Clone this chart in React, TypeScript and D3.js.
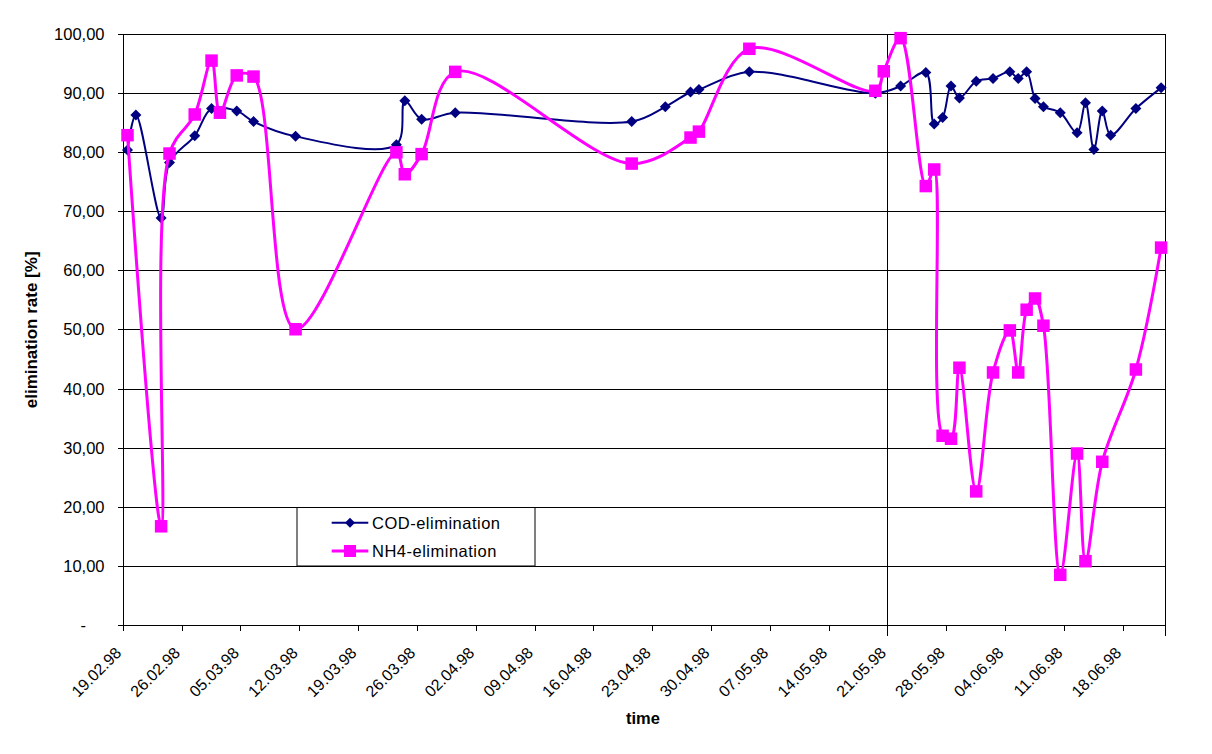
import React from "react";
import * as d3 from "d3";

// ---- data ----
const codDates = [
  "19.02.98", "20.02.98", "23.02.98", "24.02.98", "27.02.98", "01.03.98", "04.03.98", "06.03.98",
  "11.03.98", "23.03.98", "24.03.98", "26.03.98", "30.03.98", "20.04.98", "24.04.98", "27.04.98",
  "28.04.98", "04.05.98", "19.05.98", "22.05.98", "25.05.98", "26.05.98", "27.05.98", "28.05.98",
  "29.05.98", "31.05.98", "02.06.98", "04.06.98", "05.06.98", "06.06.98", "07.06.98", "08.06.98",
  "10.06.98", "12.06.98", "13.06.98", "14.06.98", "15.06.98", "16.06.98", "19.06.98", "22.06.98",
];
const codValues = [
  80.4, 86.3, 68.9, 78.3, 82.8, 87.4, 87.0, 85.2,
  82.7, 81.3, 88.7, 85.6, 86.7, 85.2, 87.7, 90.2,
  90.6, 93.6, 90.0, 91.2, 93.5, 84.8, 85.9, 91.2,
  89.2, 92.0, 92.5, 93.6, 92.5, 93.6, 89.1, 87.7,
  86.7, 83.3, 88.4, 80.5, 87.0, 82.9, 87.4, 90.9,
];
const nh4Dates = [
  "19.02.98", "23.02.98", "24.02.98", "27.02.98", "01.03.98", "02.03.98", "04.03.98", "06.03.98",
  "11.03.98", "23.03.98", "24.03.98", "26.03.98", "30.03.98", "20.04.98", "27.04.98", "28.04.98",
  "04.05.98", "19.05.98", "20.05.98", "22.05.98", "25.05.98", "26.05.98", "27.05.98", "28.05.98",
  "29.05.98", "31.05.98", "02.06.98", "04.06.98", "05.06.98", "06.06.98", "07.06.98", "08.06.98",
  "10.06.98", "12.06.98", "13.06.98", "15.06.98", "19.06.98", "22.06.98",
];
const nh4Values = [
  82.9, 16.8, 79.8, 86.4, 95.5, 86.7, 93.0, 92.8,
  50.1, 80.0, 76.3, 79.7, 93.6, 78.1, 82.5, 83.5,
  97.5, 90.4, 93.7, 99.3, 74.3, 77.1, 32.1, 31.6,
  43.6, 22.7, 42.8, 49.9, 42.8, 53.4, 55.3, 50.7,
  8.6, 29.1, 10.9, 27.7, 43.3, 63.9,
];
const yTicks = [0, 10, 20, 30, 40, 50, 60, 70, 80, 90, 100];
const xTickLabels = [
  "19.02.98", "26.02.98", "05.03.98", "12.03.98", "19.03.98", "26.03.98", "02.04.98", "09.04.98",
  "16.04.98", "23.04.98", "30.04.98", "07.05.98", "14.05.98", "21.05.98", "28.05.98", "04.06.98",
  "11.06.98", "18.06.98",
];
const axisStartDate = "19.02.98";
const axisEndDate = "23.06.98";
const dividerDate = "21.05.98";
const seriesNames = ["COD-elimination", "NH4-elimination"];

const parse = d3.timeParse("%d.%m.%y");
const HALF_DAY = 12 * 3600 * 1000;
const FONT = "'Liberation Sans', Arial, Helvetica, sans-serif";

export default function App() {
  const left = 123.3, right = 1165.3, top = 34, bottom = 625.7;
  const x = d3.scaleTime().domain([parse(axisStartDate)!, parse(axisEndDate)!]).range([left, right]);
  const y = d3.scaleLinear().domain([0, 100]).range([bottom, top]);
  const xc = (s: string) => x(new Date(parse(s)!.getTime() + HALF_DAY));

  const line = d3
    .line<[string, number]>()
    .x((d) => xc(d[0]))
    .y((d) => y(d[1]))
    .curve(d3.curveCatmullRom.alpha(0.5));

  const cod: [string, number][] = codDates.map((d, i) => [d, codValues[i]]);
  const nh4: [string, number][] = nh4Dates.map((d, i) => [d, nh4Values[i]]);

  const diamond = (cx: number, cy: number, r = 5.5) =>
    `M${cx},${cy - r}L${cx + r},${cy}L${cx},${cy + r}L${cx - r},${cy}Z`;
  const sq = 12.5;

  const fmt = (v: number) => (v === 0 ? "-" : d3.format(".2f")(v).replace(".", ","));
  const divX = x(parse(dividerDate)!);

  const legX = 297, legY = 507.5, legW = 238, legH = 58.5;
  const row1 = 522.7, row2 = 551;

  return (
    <svg
      width={1212}
      height={754}
      style={{ position: "absolute", left: 0, top: 0, background: "#fff" }}
      fontFamily={FONT}
    >
      <rect x={0} y={0} width={1212} height={754} fill="#fff" />
      {/* gridlines */}
      {yTicks.filter((t) => t > 0).map((t) => (
        <line key={t} x1={left} x2={right} y1={y(t)} y2={y(t)} stroke="#000" strokeWidth={1} shapeRendering="crispEdges" />
      ))}
      {/* y axis */}
      <line x1={left} x2={left} y1={top} y2={bottom} stroke="#000" shapeRendering="crispEdges" />
      {yTicks.map((t) => (
        <g key={t}>
          <line x1={left - 5} x2={left} y1={y(t)} y2={y(t)} stroke="#000" shapeRendering="crispEdges" />
          <text
            x={t === 0 ? 86 : 104.5}
            y={y(t)}
            dy="0.34em"
            textAnchor="end"
            fontSize={16.5}
            fill="#000"
          >
            {fmt(t)}
          </text>
        </g>
      ))}
      {/* x axis */}
      <line x1={left} x2={right} y1={bottom} y2={bottom} stroke="#000" shapeRendering="crispEdges" />
      {xTickLabels.map((s) => {
        const tx = x(parse(s)!);
        return (
          <g key={s}>
            <line x1={tx} x2={tx} y1={bottom} y2={bottom + 5} stroke="#000" shapeRendering="crispEdges" />
            <text
              transform={`translate(${tx - 1},${654}) rotate(-45)`}
              textAnchor="end"
              fontSize={16}
              fill="#000"
            >
              {s}
            </text>
          </g>
        );
      })}
      {/* divider and right border */}
      <line x1={divX} x2={divX} y1={top} y2={bottom + 10} stroke="#000" shapeRendering="crispEdges" />
      <line x1={right} x2={right} y1={top} y2={bottom + 10} stroke="#000" shapeRendering="crispEdges" />

      {/* axis titles */}
      <text x={643} y={724} textAnchor="middle" fontWeight="bold" fontSize={16.5} fill="#000">
        time
      </text>
      <text
        transform={`translate(37,${(top + bottom) / 2}) rotate(-90)`}
        textAnchor="middle"
        fontWeight="bold"
        fontSize={17}
        fill="#000"
      >
        elimination rate [%]
      </text>

      {/* legend box */}
      <rect x={legX} y={legY} width={legW} height={legH} fill="#fff" stroke="#000" strokeWidth={1} />

      {/* COD series */}
      <path d={line(cod) || ""} fill="none" stroke="#000080" strokeWidth={2} />
      {cod.map((d, i) => (
        <path key={i} d={diamond(xc(d[0]), y(d[1]))} fill="#000080" />
      ))}
      {/* NH4 series */}
      <path d={line(nh4) || ""} fill="none" stroke="#FF00FF" strokeWidth={3} />
      {nh4.map((d, i) => (
        <rect key={i} x={xc(d[0]) - sq / 2} y={y(d[1]) - sq / 2} width={sq} height={sq} fill="#FF00FF" />
      ))}

      {/* legend entries */}
      <line x1={331.7} x2={368.3} y1={row1} y2={row1} stroke="#000080" strokeWidth={2} />
      <path d={diamond(350, row1, 5)} fill="#000080" />
      <text x={372} y={row1 + 5.8} fontSize={16.5} letterSpacing={0.5} fill="#000">
        {seriesNames[0]}
      </text>
      <line x1={331.7} x2={368.3} y1={row2} y2={row2} stroke="#FF00FF" strokeWidth={3} />
      <rect x={350 - 6} y={row2 - 6} width={12} height={12} fill="#FF00FF" />
      <text x={372} y={row2 + 5.8} fontSize={16.5} letterSpacing={0.5} fill="#000">
        {seriesNames[1]}
      </text>
    </svg>
  );
}
